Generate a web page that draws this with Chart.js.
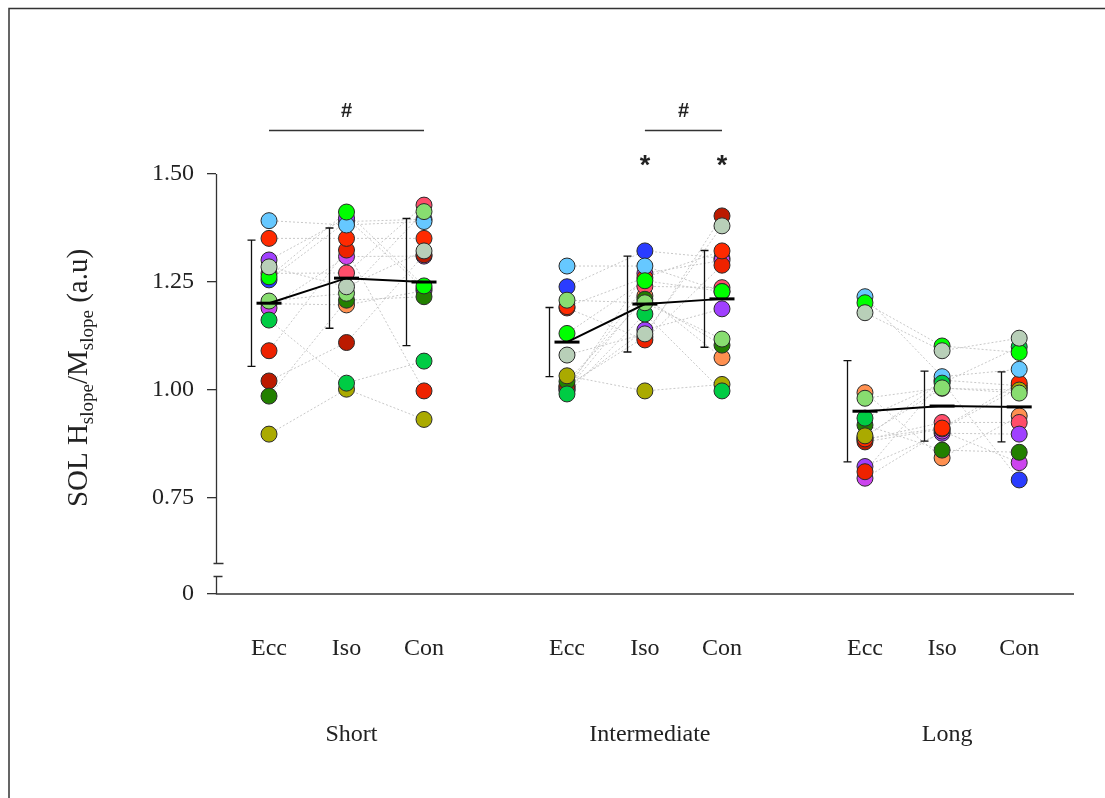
<!DOCTYPE html>
<html>
<head>
<meta charset="utf-8">
<title>SOL Hslope/Mslope</title>
<script src="https://cdn.jsdelivr.net/npm/chart.js"></script>
<style>
  html, body { margin: 0; padding: 0; background: #fff; }
  #wrap { width: 1105px; height: 798px; position: relative; }
</style>
</head>
<body>
<div id="wrap"><canvas id="chart"></canvas></div>
<script>
// categories
const groups = ['Short', 'Intermediate', 'Long'];
const conditions = ['Ecc', 'Iso', 'Con'];
const positions = [0, 1, 2, 3.845, 4.85, 5.845, 7.69, 8.685, 9.68];

// y ticks (axis is broken below 0.60, bottom label reads 0)
const yTicks = [0.75, 1.00, 1.25, 1.50];
const yMin = 0.528;
const yMax = 1.5;
const breakTop = 0.60;
const breakBottom = 0.57;

// subject colours, in drawing order (first = bottom)
const subjectColors = [
  '#2a3cff', '#ff9050', '#ff4d6a', '#a040ff', '#cc44ee',
  '#bb1a00', '#ee2200', '#ff2a00', '#66c8ff', '#228000',
  '#aaaa00', '#00cc44', '#88dd70', '#00ff00', '#b8cfb8'
];

// individual values per condition, one per subject (same order as colours)
const shortEcc = [1.255, 1.200, 1.270, 1.301, 1.190, 1.021, 1.091, 1.351, 1.392, 0.986, 0.898, 1.162, 1.206, 1.262, 1.285];
const shortIso = [1.390, 1.197, 1.271, 1.398, 1.309, 1.110, 1.324, 1.351, 1.382, 1.208, 1.002, 1.016, 1.224, 1.412, 1.239];
const shortCon = [1.395, 1.230, 1.428, 1.235, 1.310, 1.313, 0.998, 1.351, 1.390, 1.216, 0.932, 1.067, 1.413, 1.241, 1.322];
const interEcc = [1.239, 1.000, 1.008, 1.005, 1.000, 1.010, 1.190, 1.193, 1.287, 1.020, 1.033, 0.991, 1.208, 1.131, 1.081];
const interIso = [1.322, 1.218, 1.240, 1.139, 1.270, 1.123, 1.116, 1.260, 1.287, 1.210, 0.998, 1.176, 1.202, 1.253, 1.130];
const interCon = [1.305, 1.075, 1.237, 1.188, 1.300, 1.403, 1.289, 1.322, 1.228, 1.104, 1.013, 0.998, 1.118, 1.228, 1.380];
const longEcc  = [0.890, 0.994, 0.885, 0.823, 0.796, 0.880, 0.811, 0.887, 1.216, 0.919, 0.894, 0.935, 0.981, 1.202, 1.179];
const longIso  = [1.020, 0.843, 0.925, 0.900, 0.905, 0.910, 1.023, 0.912, 1.031, 0.861, 1.004, 1.016, 1.005, 1.102, 1.091];
const longCon  = [0.792, 0.940, 0.925, 0.898, 0.832, 1.005, 1.010, 1.016, 1.048, 0.856, 1.000, 1.100, 0.993, 1.087, 1.120];
const allValues = [shortEcc, shortIso, shortCon, interEcc, interIso, interCon, longEcc, longIso, longCon];

// group means and SD
const means = [1.201, 1.259, 1.250, 1.111, 1.199, 1.211, 0.951, 0.963, 0.961];
const sds   = [0.146, 0.116, 0.147, 0.080, 0.111, 0.112, 0.117, 0.081, 0.081];

// significance marks: bars between positions, stars above positions
const sigBars = [{ from: 0, to: 2, label: '#' }, { from: 4, to: 5, label: '#' }];
const stars = [4, 5];

const serif = "'Liberation Serif', 'Times New Roman', serif";
const textColor = '#222';

const sameGroup = c => Math.floor(c.p0DataIndex / 3) === Math.floor(c.p1DataIndex / 3);

const datasets = [];
subjectColors.forEach((col, i) => {
  const pts = positions.map((x, k) => ({ x: x, y: allValues[k][i] }));
  datasets.push({
    type: 'line',
    data: pts,
    borderColor: '#c8c8c8',
    borderWidth: 1,
    borderDash: [2, 2],
    pointRadius: 0,
    segment: { borderColor: c => sameGroup(c) ? '#c8c8c8' : 'rgba(0,0,0,0)' },
    order: 200,
    clip: false
  });
  datasets.push({
    type: 'scatter',
    data: pts,
    backgroundColor: col,
    borderColor: '#2a2a2a',
    borderWidth: 1,
    pointRadius: 8,
    order: 100 - i,
    clip: false
  });
});
datasets.push({
  type: 'line',
  data: positions.map((x, k) => ({ x: x, y: means[k] })),
  borderColor: '#000',
  borderWidth: 2,
  pointStyle: 'line',
  pointRadius: 12.5,
  pointBorderWidth: 3,
  pointBorderColor: '#000',
  segment: { borderColor: c => sameGroup(c) ? '#000' : 'rgba(0,0,0,0)' },
  order: 0,
  clip: false
});

const extras = {
  id: 'extras',
  afterDatasetsDraw(chart) {
    const ctx = chart.ctx, xs = chart.scales.x, ys = chart.scales.y;
    const area = chart.chartArea;
    ctx.save();

    // error bars (SD), drawn left of each column
    ctx.strokeStyle = '#111';
    ctx.lineWidth = 1.3;
    positions.forEach((p, k) => {
      const px = Math.round(xs.getPixelForValue(p)) - 17.5;
      const top = ys.getPixelForValue(means[k] + sds[k]);
      const bot = ys.getPixelForValue(means[k] - sds[k]);
      ctx.beginPath();
      ctx.moveTo(px, top); ctx.lineTo(px, bot);
      ctx.moveTo(px - 4, top); ctx.lineTo(px + 4, top);
      ctx.moveTo(px - 4, bot); ctx.lineTo(px + 4, bot);
      ctx.stroke();
    });

    // frame
    ctx.strokeStyle = '#333';
    ctx.lineWidth = 1.5;
    ctx.beginPath();
    ctx.moveTo(9, chart.height);
    ctx.lineTo(9, 8.5);
    ctx.lineTo(chart.width, 8.5);
    ctx.stroke();

    // broken y axis + x axis
    const ax = area.left + 0.5;
    const yTopPx = ys.getPixelForValue(yMax);
    const bTop = Math.round(ys.getPixelForValue(breakTop)) + 0.5;
    const bBot = Math.round(ys.getPixelForValue(breakBottom)) + 0.5;
    const bottom = area.bottom;
    ctx.lineWidth = 1.3;
    ctx.beginPath();
    ctx.moveTo(ax, yTopPx); ctx.lineTo(ax, bTop);
    ctx.moveTo(ax - 3, bTop); ctx.lineTo(ax + 7, bTop);
    ctx.moveTo(ax - 3, bBot); ctx.lineTo(ax + 6, bBot);
    ctx.moveTo(ax, bBot); ctx.lineTo(ax, bottom);
    ctx.lineTo(area.right, bottom);
    ctx.stroke();

    // significance bars and marks
    ctx.fillStyle = textColor;
    ctx.textAlign = 'center';
    ctx.textBaseline = 'alphabetic';
    sigBars.forEach(b => {
      const x1 = xs.getPixelForValue(positions[b.from]);
      const x2 = xs.getPixelForValue(positions[b.to]);
      const ly = Math.round(ys.getPixelForValue(1.602)) + 0.5;
      ctx.lineWidth = 1.6;
      ctx.strokeStyle = '#333';
      ctx.beginPath();
      ctx.moveTo(x1, ly); ctx.lineTo(x2, ly);
      ctx.stroke();
      ctx.font = "bold 20px 'Liberation Sans', Arial, sans-serif";
      ctx.fillText(b.label, (x1 + x2) / 2, ys.getPixelForValue(1.631));
    });
    ctx.font = "bold 27px 'Liberation Sans', Arial, sans-serif";
    stars.forEach(k => {
      ctx.fillText('*', xs.getPixelForValue(positions[k]), ys.getPixelForValue(1.5));
    });

    // group labels
    ctx.font = '24px ' + serif;
    ctx.textBaseline = 'middle';
    groups.forEach((g, gi) => {
      const cx = xs.getPixelForValue(positions[gi * 3 + 1]) + 5;
      ctx.fillText(g, cx, 735);
    });

    // y title with subscripts
    const parts = [['SOL H', false], ['slope', true], ['/M', false], ['slope', true], [' (a.u)', false]];
    const mainFont = '29px ' + serif, subFont = '19px ' + serif;
    let total = 0;
    parts.forEach(p => { ctx.font = p[1] ? subFont : mainFont; total += ctx.measureText(p[0]).width; });
    ctx.translate(87, 378);
    ctx.rotate(-Math.PI / 2);
    ctx.textAlign = 'left';
    ctx.textBaseline = 'alphabetic';
    let cx = -total / 2;
    parts.forEach(p => {
      ctx.font = p[1] ? subFont : mainFont;
      ctx.fillText(p[0], cx, p[1] ? 6 : 0);
      cx += ctx.measureText(p[0]).width;
    });
    ctx.restore();
  }
};

new Chart(document.getElementById('chart'), {
  data: { datasets: datasets },
  options: {
    responsive: true,
    maintainAspectRatio: false,
    animation: false,
    layout: { padding: { top: 174, right: 31, left: 0, bottom: 0 } },
    plugins: { legend: { display: false }, tooltip: { enabled: false } },
    scales: {
      x: {
        type: 'linear',
        min: -0.684,
        max: 10.387,
        afterBuildTicks: s => { s.ticks = positions.map(v => ({ value: v })); },
        afterFit: s => { s.height = 204; },
        grid: { display: false, drawTicks: false },
        border: { display: false },
        ticks: {
          autoSkip: false,
          maxRotation: 0,
          padding: 40,
          color: textColor,
          font: { family: serif, size: 24 },
          callback: (v, i) => conditions[i % 3]
        }
      },
      y: {
        type: 'linear',
        min: yMin,
        max: yMax,
        afterBuildTicks: s => { s.ticks = [{ value: yMin }].concat(yTicks.map(v => ({ value: v }))); },
        afterFit: s => { s.width = 216; },
        grid: { drawOnChartArea: false, drawTicks: true, tickLength: 9, color: '#333', lineWidth: 1.3 },
        border: { display: false },
        ticks: {
          padding: 13,
          color: textColor,
          font: { family: serif, size: 24 },
          callback: v => v === yMin ? '0' : v.toFixed(2)
        }
      }
    }
  },
  plugins: [extras]
});
</script>
</body>
</html>
